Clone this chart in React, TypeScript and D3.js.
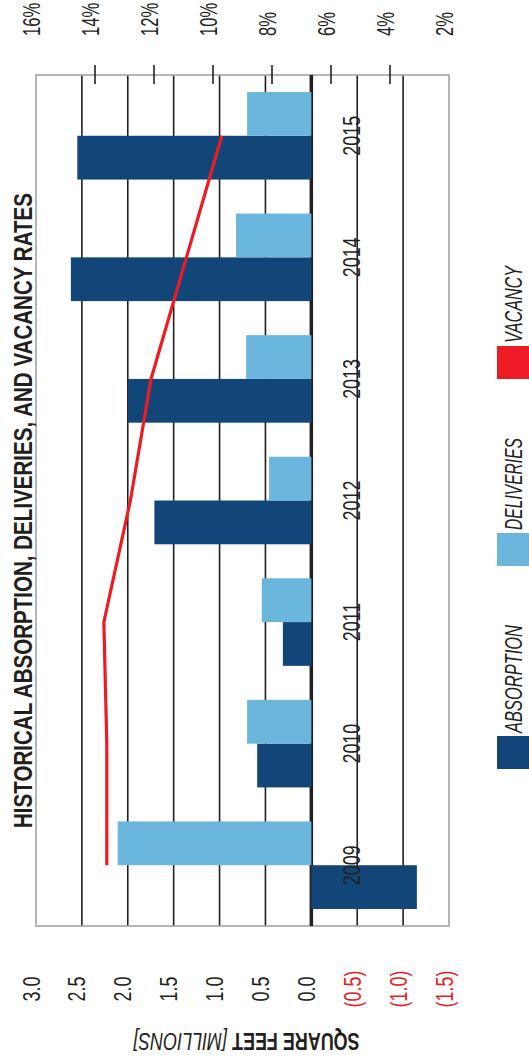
import React from 'react';
import * as d3 from 'd3';

const years = ['2009', '2010', '2011', '2012', '2013', '2014', '2015'];
const absorption = [-1.15, 0.59, 0.31, 1.71, 2.0, 2.62, 2.55];
const deliveries = [2.11, 0.7, 0.54, 0.46, 0.71, 0.82, 0.7];
const vacancy = [13.6, 13.6, 13.7, 12.8, 12.1, 10.9, 9.7];
const sqftTicks = [3.0, 2.5, 2.0, 1.5, 1.0, 0.5, 0, -0.5, -1.0, -1.5];
const sqftTickLabels = ['3.0', '2.5', '2.0', '1.5', '1.0', '0.5', '0.0', '(0.5)', '(1.0)', '(1.5)'];
const pctTicks = [16, 14, 12, 10, 8, 6, 4, 2];
const pctTickLabels = ['16%', '14%', '12%', '10%', '8%', '6%', '4%', '2%'];
const legendLabels = ['ABSORPTION', 'DELIVERIES', 'VACANCY'];
const titleText = 'HISTORICAL ABSORPTION, DELIVERIES, AND VACANCY RATES';

const DARK = '#124678';
const LIGHT = '#6ab6dc';
const RED = '#ed1c24';
const INK = '#231f20';
const FRAME = '#a3a3a3';
const FONT = '"Liberation Sans", Arial, sans-serif';

// Landscape canvas (drawn rotated -90deg into the 529x1059 page)
const PW = 529;
const PH = 1059;
const plot = { x0: 133, x1: 984, y0: 36, y1: 449 };

export default function App() {
  const x = d3.scaleBand<string>().domain(years).range([plot.x0, plot.x1]).paddingInner(0.28).paddingOuter(0.14);
  const y = d3.scaleLinear().domain([-1.5, 3.0]).range([plot.y1, plot.y0]);
  const yp = d3.scaleLinear().domain([2, 16]).range([plot.y1, plot.y0]);
  const bw = x.bandwidth() / 2;

  const line = d3
    .line<number>()
    .x((_, i) => (x(years[i]) as number) + x.bandwidth() / 2)
    .y((d) => yp(d));

  const legendColors = [DARK, LIGHT, RED];
  const legendLens = [108, 92, 77];
  const legendStarts: number[] = [];
  let cur = 290;
  legendLabels.forEach((_, i) => {
    legendStarts.push(cur);
    cur = cur + 36 + legendLens[i] + 59;
  });

  return (
    <svg
      width={PW}
      height={PH}
      style={{ position: 'absolute', left: 0, top: 0, display: 'block', background: '#fff' }}
    >
      <g transform={`translate(0,${PH}) rotate(-90)`} fontFamily={FONT}>
        {/* grid lines */}
        {sqftTicks
          .filter((v) => v !== 0 && v !== 3.0 && v !== -1.5)
          .map((v) => (
            <line key={'g' + v} x1={plot.x0} x2={plot.x1} y1={y(v)} y2={y(v)} stroke={INK} strokeWidth={1.6} />
          ))}
        {/* frame */}
        <rect
          x={plot.x0}
          y={plot.y0}
          width={plot.x1 - plot.x0}
          height={plot.y1 - plot.y0}
          fill="none"
          stroke={FRAME}
          strokeWidth={1.6}
        />
        {/* percent ticks */}
        {pctTicks
          .filter((v) => v !== 16 && v !== 2)
          .map((v) => (
            <line key={'pt' + v} x1={plot.x1 - 9} x2={plot.x1 + 10} y1={yp(v)} y2={yp(v)} stroke={INK} strokeWidth={1.6} />
          ))}
        {/* zero line */}
        <line x1={plot.x0} x2={plot.x1} y1={y(0)} y2={y(0)} stroke={INK} strokeWidth={3.5} />
        {/* bars */}
        {years.map((yr, i) => {
          const bx = x(yr) as number;
          const a = absorption[i];
          const d = deliveries[i];
          return (
            <g key={yr}>
              <rect x={bx} width={bw} y={Math.min(y(a), y(0))} height={Math.abs(y(a) - y(0))} fill={DARK} />
              <rect x={bx + bw} width={bw} y={Math.min(y(d), y(0))} height={Math.abs(y(d) - y(0))} fill={LIGHT} />
            </g>
          );
        })}
        {/* vacancy line */}
        <path d={line(vacancy) || ''} fill="none" stroke={RED} strokeWidth={3.2} />
        {/* year labels */}
        {years.map((yr) => (
          <g key={'yl' + yr} transform={`translate(${(x(yr) as number) + x.bandwidth() / 2},360) scale(0.78,1)`}>
            <text textAnchor="middle" fontSize={23} fill={INK}>
              {yr}
            </text>
          </g>
        ))}
        {/* left axis labels */}
        {sqftTicks.map((v, i) => (
          <g key={'sl' + v} transform={`translate(70,${y(v) + 3.5}) scale(0.78,1)`}>
            <text textAnchor="middle" fontSize={23} fill={v < 0 ? RED : INK}>
              {sqftTickLabels[i]}
            </text>
          </g>
        ))}
        {/* right axis labels */}
        {pctTicks.map((v, i) => (
          <g key={'pl' + v} transform={`translate(1023,${yp(v) + 3.5}) scale(0.72,1)`}>
            <text textAnchor="start" fontSize={23} fill={INK}>
              {pctTickLabels[i]}
            </text>
          </g>
        ))}
        {/* axis title */}
        <g transform={`translate(26.3,${(plot.y0 + plot.y1) / 2 + 4}) rotate(-90) scale(0.78,1)`}>
          <text textAnchor="middle" fontSize={23} fill={INK}>
            <tspan fontWeight="bold">SQUARE FEET </tspan>
            <tspan fontStyle="italic">[MILLIONS]</tspan>
          </text>
        </g>
        {/* title */}
        <text
          x={231}
          y={32}
          fontSize={26}
          fontWeight="bold"
          fill={INK}
          textLength={635}
          lengthAdjust="spacingAndGlyphs"
        >
          {titleText}
        </text>
        {/* legend */}
        {legendLabels.map((lab, i) => (
          <g key={lab}>
            <rect x={legendStarts[i]} y={497} width={33} height={33} fill={legendColors[i]} />
            <text
              x={legendStarts[i] + 36}
              y={522}
              fontSize={23}
              fontStyle="italic"
              fill={INK}
              textLength={legendLens[i]}
              lengthAdjust="spacingAndGlyphs"
            >
              {lab}
            </text>
          </g>
        ))}
      </g>
    </svg>
  );
}
